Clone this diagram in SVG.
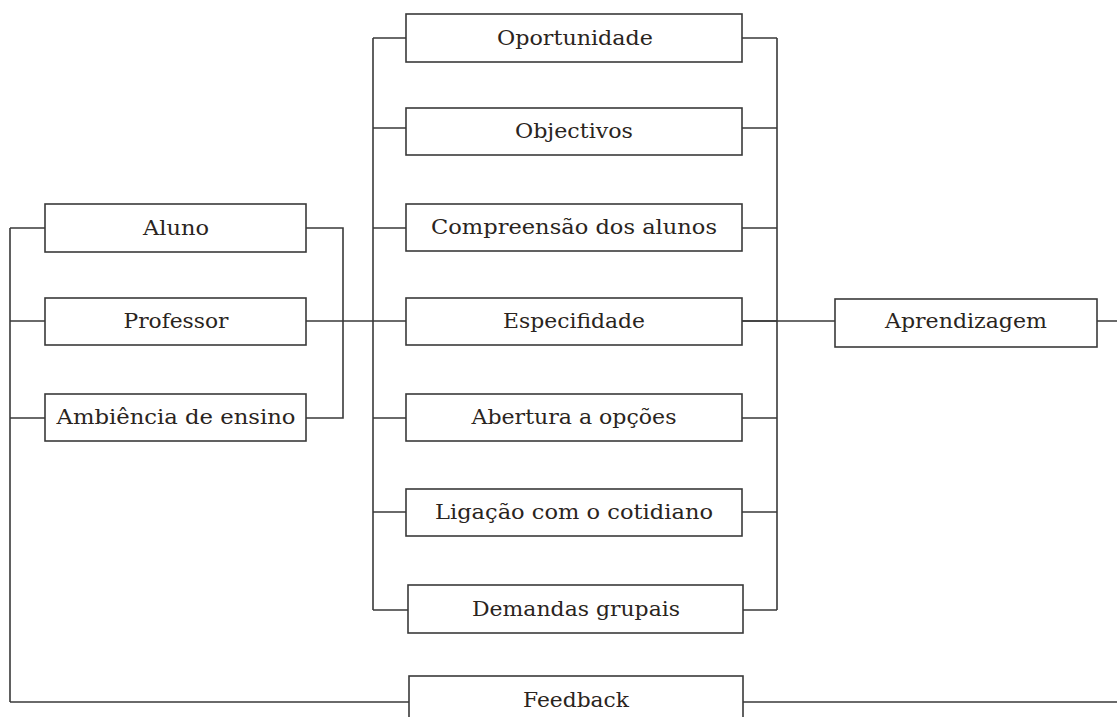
<svg xmlns="http://www.w3.org/2000/svg" width="1117" height="717" viewBox="0 0 1117 717">
<style>
.box{fill:#fff;stroke:#3a3a3a;stroke-width:1.6}
.lbl{font-family:"DejaVu Serif","Liberation Serif",serif;font-size:20px;fill:#2a2420;text-anchor:middle}
.con{stroke:#3a3a3a;stroke-width:1.6;fill:none}
</style>
<rect width="1117" height="717" fill="#fff"/>
<g id="connectors">
<path class="con" d="M10,228V702M10,228H45M10,321H45M10,418H45"/>
<path class="con" d="M306,228H343V418H306M306,321H406"/>
<path class="con" d="M373,38V610M373,38H406M373,128H406M373,228H406M373,418H406M373,512H406M373,610H408"/>
<path class="con" d="M777,38V610M742,38H777M742,128H777M742,228H777M742,321H777M742,418H777M742,512H777M743,610H777"/>
<path class="con" d="M742,321H835M1097,321H1117"/>
<path class="con" d="M10,702H409M743,702H1117"/>
</g>
<g id="aluno"><rect class="box" x="45" y="204" width="261" height="48"/><text class="lbl" x="176" y="235" textLength="66" lengthAdjust="spacingAndGlyphs">Aluno</text></g>
<g id="professor"><rect class="box" x="45" y="298" width="261" height="47"/><text class="lbl" x="176" y="328" textLength="105" lengthAdjust="spacingAndGlyphs">Professor</text></g>
<g id="ambiencia"><rect class="box" x="45" y="394" width="261" height="47"/><text class="lbl" x="176" y="424" textLength="239" lengthAdjust="spacingAndGlyphs">Ambiência de ensino</text></g>
<g id="oportunidade"><rect class="box" x="406" y="14" width="336" height="48"/><text class="lbl" x="575" y="45" textLength="156" lengthAdjust="spacingAndGlyphs">Oportunidade</text></g>
<g id="objectivos"><rect class="box" x="406" y="108" width="336" height="47"/><text class="lbl" x="574" y="138" textLength="118" lengthAdjust="spacingAndGlyphs">Objectivos</text></g>
<g id="compreensao"><rect class="box" x="406" y="204" width="336" height="47"/><text class="lbl" x="574" y="234" textLength="286" lengthAdjust="spacingAndGlyphs">Compreensão dos alunos</text></g>
<g id="especifidade"><rect class="box" x="406" y="298" width="336" height="47"/><text class="lbl" x="574" y="328" textLength="142" lengthAdjust="spacingAndGlyphs">Especifidade</text></g>
<g id="abertura"><rect class="box" x="406" y="394" width="336" height="47"/><text class="lbl" x="574" y="424" textLength="205" lengthAdjust="spacingAndGlyphs">Abertura a opções</text></g>
<g id="ligacao"><rect class="box" x="406" y="489" width="336" height="47"/><text class="lbl" x="574" y="519" textLength="278" lengthAdjust="spacingAndGlyphs">Ligação com o cotidiano</text></g>
<g id="demandas"><rect class="box" x="408" y="585" width="335" height="48"/><text class="lbl" x="576" y="616" textLength="208" lengthAdjust="spacingAndGlyphs">Demandas grupais</text></g>
<g id="aprendizagem"><rect class="box" x="835" y="299" width="262" height="48"/><text class="lbl" x="966" y="328" textLength="162" lengthAdjust="spacingAndGlyphs">Aprendizagem</text></g>
<g id="feedback"><rect class="box" x="409" y="676" width="334" height="60"/><text class="lbl" x="576" y="707" textLength="106" lengthAdjust="spacingAndGlyphs">Feedback</text></g>
</svg>
